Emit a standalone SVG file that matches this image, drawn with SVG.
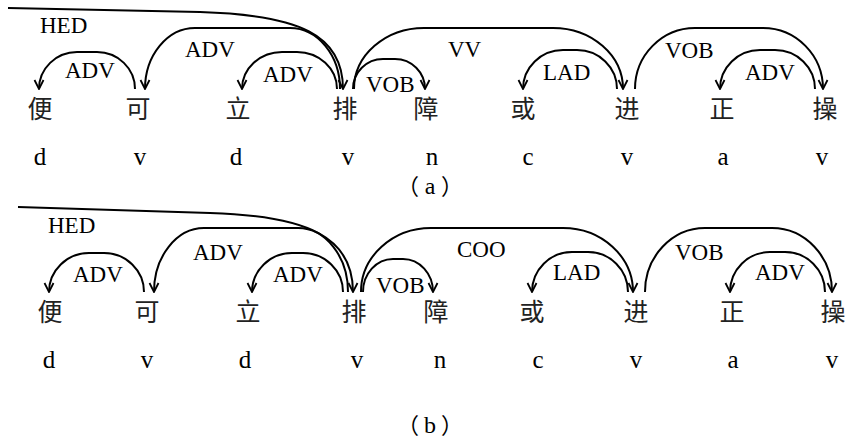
<svg xmlns="http://www.w3.org/2000/svg" width="846" height="447" viewBox="0 0 846 447">
<style>
.arc{fill:none;stroke:#000;stroke-width:2;marker-end:url(#ah)}
.hed{fill:none;stroke:#000;stroke-width:2;marker-end:url(#ah)}
.zh{font-family:"Noto Sans CJK SC","Noto Sans CJK JP",sans-serif;font-size:25px;fill:#222;text-anchor:middle}
.pos{font-family:"Liberation Serif","DejaVu Serif",serif;font-size:25px;fill:#000;text-anchor:middle}
.lbl{font-family:"Liberation Serif","DejaVu Serif",serif;font-size:23px;fill:#000}
.cap{font-family:"Liberation Serif","Noto Sans CJK SC",serif;font-size:24px;fill:#000;text-anchor:middle}
.par{font-family:"Noto Sans CJK SC","Noto Sans CJK JP",sans-serif;font-size:22px}
</style>
<defs>
<marker id="ah" viewBox="-11 -6 12 12" refX="0" refY="0" markerWidth="12" markerHeight="12" markerUnits="userSpaceOnUse" orient="auto">
<path d="M-9,-4.5 L0,0 L-9,4.5" fill="none" stroke="#000" stroke-width="1.8"/>
</marker>
</defs>
<rect width="846" height="447" fill="#fff"/>

<!-- (a) -->
<g id="a-nodes">
<g id="a-n1"><text class="zh" x="40" y="118">便</text><text class="pos" x="40" y="165">d</text></g>
<g id="a-n2"><text class="zh" x="138" y="118">可</text><text class="pos" x="140" y="165">v</text></g>
<g id="a-n3"><text class="zh" x="238" y="118">立</text><text class="pos" x="236" y="165">d</text></g>
<g id="a-n4"><text class="zh" x="345" y="118">排</text><text class="pos" x="348" y="165">v</text></g>
<g id="a-n5"><text class="zh" x="426" y="118">障</text><text class="pos" x="432" y="165">n</text></g>
<g id="a-n6"><text class="zh" x="523" y="118">或</text><text class="pos" x="528" y="165">c</text></g>
<g id="a-n7"><text class="zh" x="627" y="118">进</text><text class="pos" x="627" y="165">v</text></g>
<g id="a-n8"><text class="zh" x="722" y="118">正</text><text class="pos" x="723" y="165">a</text></g>
<g id="a-n9"><text class="zh" x="825" y="118">操</text><text class="pos" x="822" y="165">v</text></g>
</g>
<g id="a-connectors">
<path class="hed" d="M8,8 L200,12 C300,15 343,35 343,89"/>
<path class="arc" d="M135,89 C135,68.6 118,52 97,52 L77,52 C56,52 39,68.6 39,89"/>
<path class="arc" d="M340,89 C340,55.3 317.6,28 290,28 L195,28 C167.4,28 145,55.3 145,89"/>
<path class="arc" d="M337,89 C337,68.6 319.1,52 297,52 L282,52 C259.9,52 242,68.6 242,89"/>
<path class="arc" d="M353,89 C353,72.4 366.4,59 383,59 L395,59 C411.6,59 425,72.4 425,89"/>
<path class="arc" d="M354,89 C354,55.3 385.4,28 424,28 L553,28 C591.6,28 623,55.3 623,89"/>
<path class="arc" d="M617,89 C617,67.5 599.1,50 577,50 L563,50 C540.9,50 523,67.5 523,89"/>
<path class="arc" d="M635,89 C635,55.3 661.9,28 695,28 L763,28 C796.1,28 823,55.3 823,89"/>
<path class="arc" d="M815,89 C815,67.5 797.1,50 775,50 L760,50 C737.9,50 720,67.5 720,89"/>
</g>
<g id="a-labels">
<text class="lbl" x="40" y="33">HED</text>
<text class="lbl" x="65" y="78">ADV</text>
<text class="lbl" x="185" y="57">ADV</text>
<text class="lbl" x="263" y="82">ADV</text>
<text class="lbl" x="366" y="92">VOB</text>
<text class="lbl" x="448" y="57">VV</text>
<text class="lbl" x="543" y="80">LAD</text>
<text class="lbl" x="665" y="58">VOB</text>
<text class="lbl" x="745" y="80">ADV</text>
</g>
<text class="cap" y="194"><tspan class="par" x="408">（</tspan><tspan x="430">a</tspan><tspan class="par" x="452">）</tspan></text>

<!-- (b) -->
<g id="b-nodes">
<g id="b-n1"><text class="zh" x="50" y="321">便</text><text class="pos" x="49" y="368">d</text></g>
<g id="b-n2"><text class="zh" x="147" y="321">可</text><text class="pos" x="147" y="368">v</text></g>
<g id="b-n3"><text class="zh" x="248" y="321">立</text><text class="pos" x="245" y="368">d</text></g>
<g id="b-n4"><text class="zh" x="354" y="321">排</text><text class="pos" x="357" y="368">v</text></g>
<g id="b-n5"><text class="zh" x="436" y="321">障</text><text class="pos" x="440" y="368">n</text></g>
<g id="b-n6"><text class="zh" x="532" y="321">或</text><text class="pos" x="538" y="368">c</text></g>
<g id="b-n7"><text class="zh" x="636" y="321">进</text><text class="pos" x="636" y="368">v</text></g>
<g id="b-n8"><text class="zh" x="732" y="321">正</text><text class="pos" x="733" y="368">a</text></g>
<g id="b-n9"><text class="zh" x="833" y="321">操</text><text class="pos" x="832" y="368">v</text></g>
</g>
<g id="b-connectors">
<path class="hed" d="M18,207 L210,213 C310,216 353,238 353,292"/>
<path class="arc" d="M144,292 C144,270.5 126.1,253 104,253 L89,253 C66.9,253 49,270.5 49,292"/>
<path class="arc" d="M348,292 C348,256.7 325.6,228 298,228 L204,228 C176.4,228 154,256.7 154,292"/>
<path class="arc" d="M343,292 C343,270.5 325.1,253 303,253 L292,253 C269.9,253 252,270.5 252,292"/>
<path class="arc" d="M363,292 C363,273.8 376.4,259 393,259 L403,259 C419.6,259 433,273.8 433,292"/>
<path class="arc" d="M361,292 C361,256.7 392.4,228 431,228 L563,228 C601.6,228 633,256.7 633,292"/>
<path class="arc" d="M628,292 C628,269.9 610.1,252 588,252 L572,252 C549.9,252 532,269.9 532,292"/>
<path class="arc" d="M645,292 C645,256.7 671.9,228 705,228 L772,228 C805.1,228 832,256.7 832,292"/>
<path class="arc" d="M825,292 C825,269.9 807.1,252 785,252 L770,252 C747.9,252 730,269.9 730,292"/>
</g>
<g id="b-labels">
<text class="lbl" x="48" y="233">HED</text>
<text class="lbl" x="73" y="282">ADV</text>
<text class="lbl" x="193" y="260">ADV</text>
<text class="lbl" x="273" y="282">ADV</text>
<text class="lbl" x="376" y="293">VOB</text>
<text class="lbl" x="457" y="257">COO</text>
<text class="lbl" x="553" y="280">LAD</text>
<text class="lbl" x="675" y="260">VOB</text>
<text class="lbl" x="755" y="280">ADV</text>
</g>
<text class="cap" y="433"><tspan class="par" x="408">（</tspan><tspan x="430">b</tspan><tspan class="par" x="452">）</tspan></text>
</svg>
